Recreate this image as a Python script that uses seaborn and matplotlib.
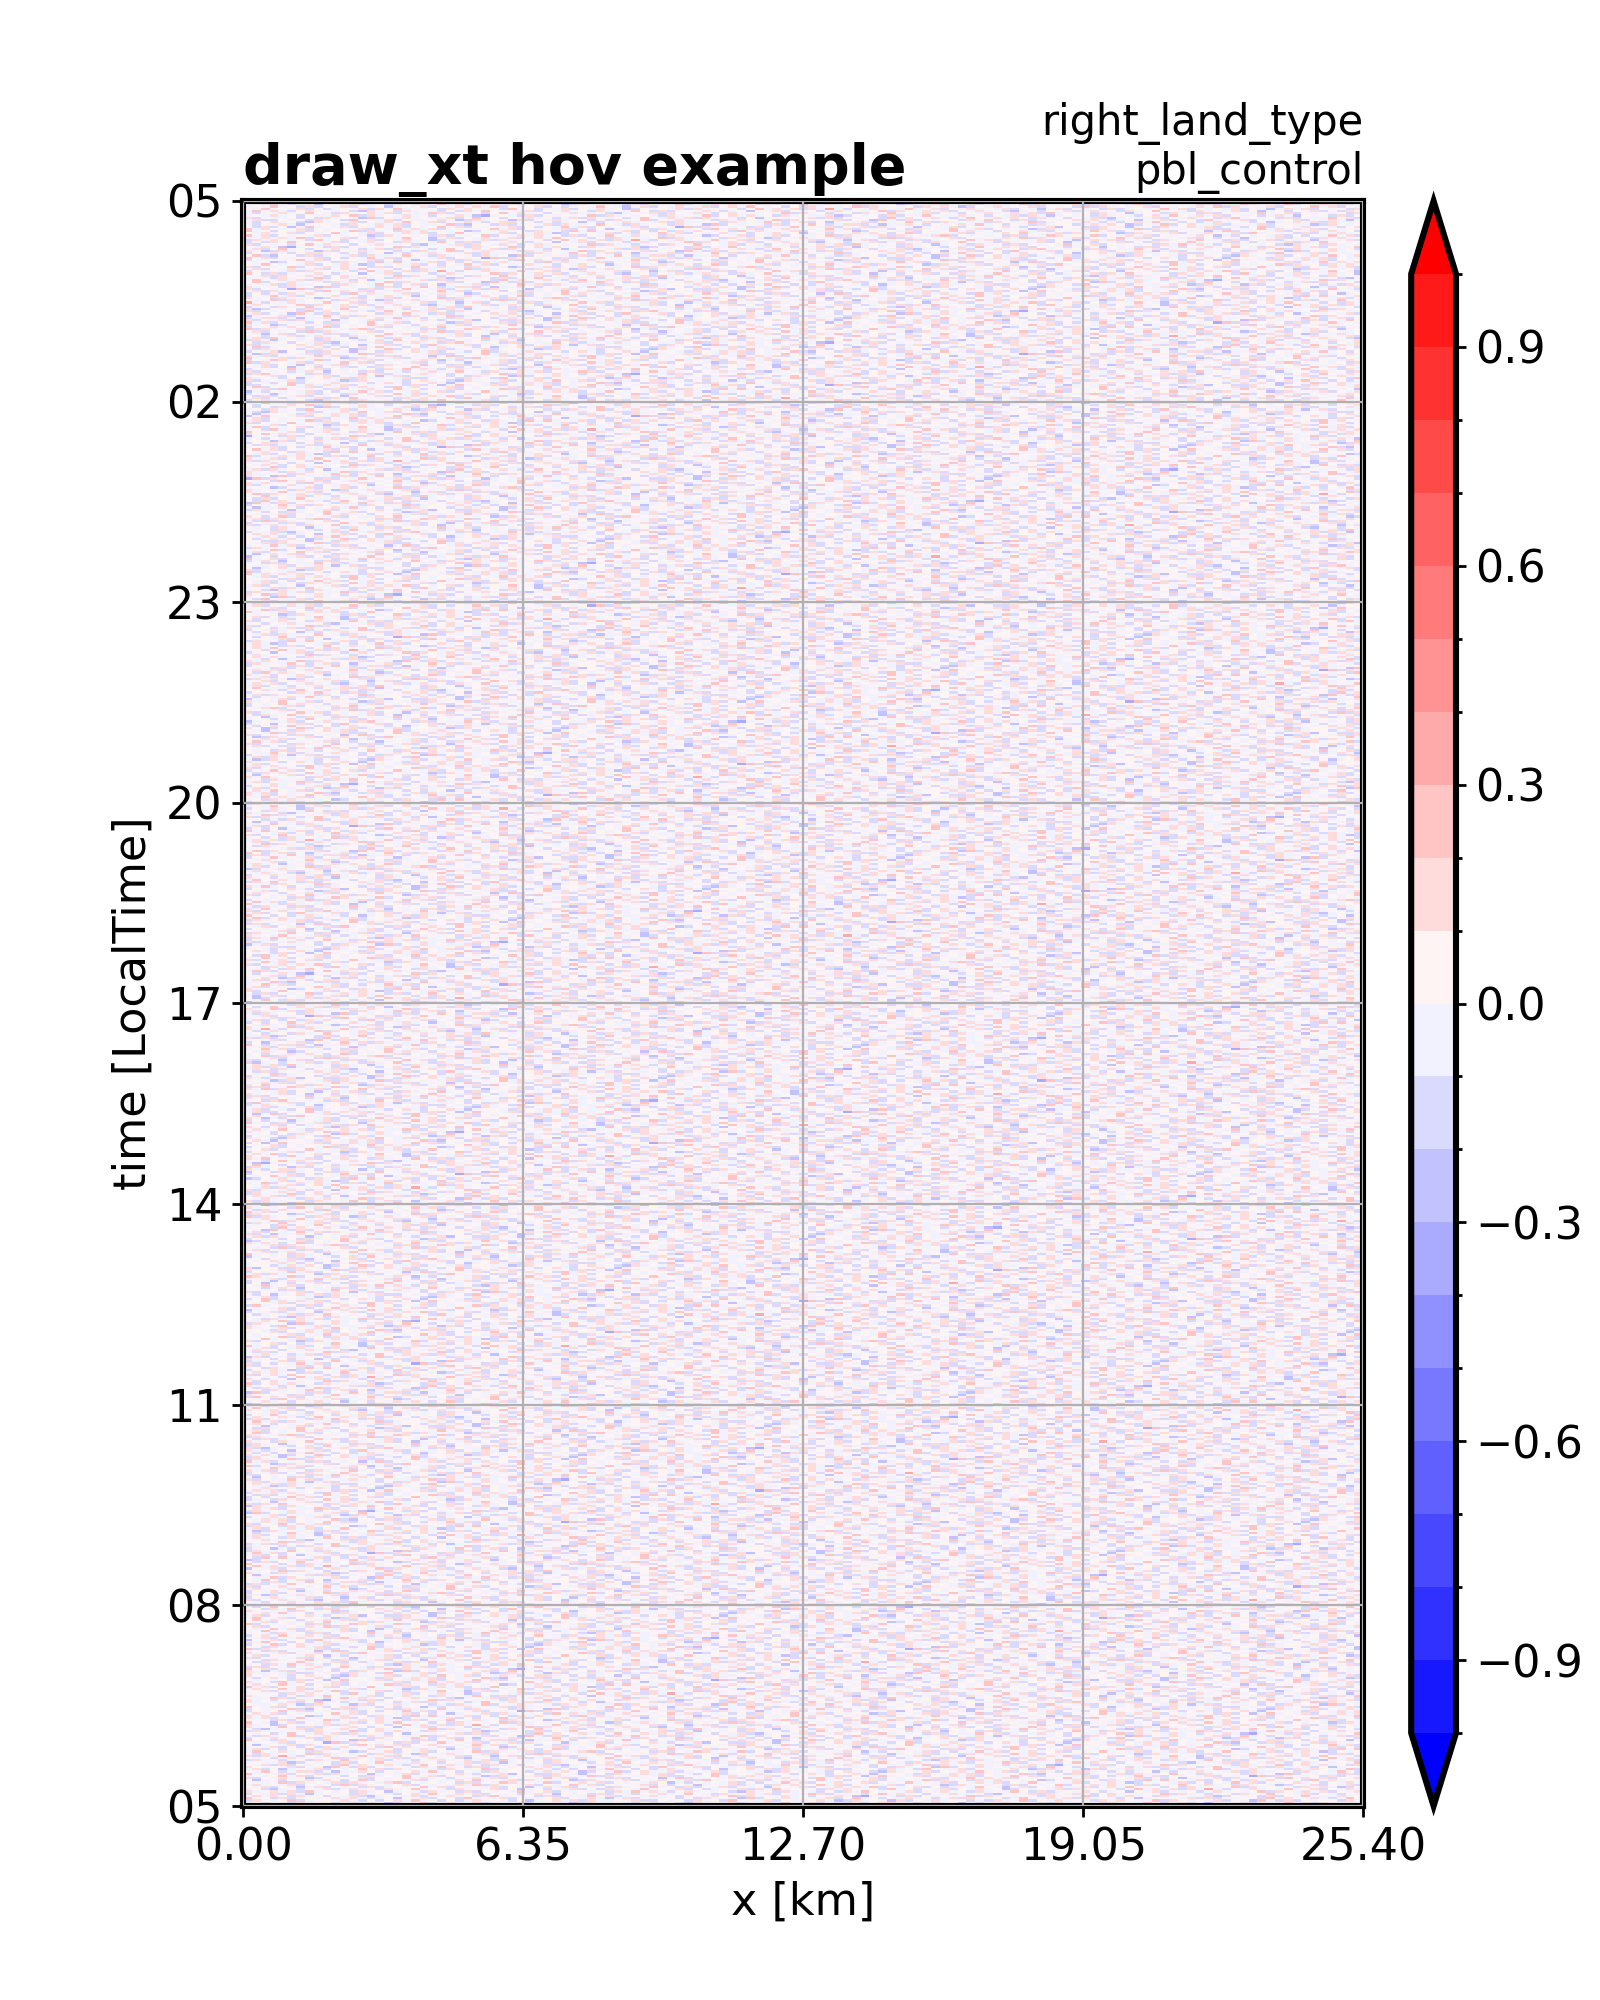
import numpy as np
import pandas as pd
import matplotlib
matplotlib.use("Agg")
import matplotlib.pyplot as plt
from matplotlib.colors import BoundaryNorm
from matplotlib.ticker import FixedLocator
import seaborn as sns

# texts
title_left = "draw_xt hov example"
title_right = "right_land_type\npbl_control"
x_label = "x [km]"
y_label = "time [LocalTime]"

# grid of the hovmoller field
dx_km = 0.2
n_x = 127
start_hour = 5
n_hours = 24
steps_per_hour = 30

# contour levels and ticks
levels = np.round(np.arange(-1.0, 1.01, 0.1), 1)
cbar_ticks = [-0.9, -0.6, -0.3, 0.0, 0.3, 0.6, 0.9]
x_tick_km = [0.00, 6.35, 12.70, 19.05, 25.40]
y_tick_hours = [0, 3, 6, 9, 12, 15, 18, 21, 24]

# the field is fine noise; its cells are estimated as level codes (0..7)
code_values = [-0.35, -0.25, -0.15, -0.05, 0.05, 0.15, 0.25, 0.35]
field_codes = (
    "3453243514422543134253453524324623435343245324453134432543535243346214425234352533464325344253416243"
    "4325243642355231335424345363424325344235354124362453352343524433125434324534215343524353643524353245"
    "5342423413243534352533442534364235241343524346352534332543462344353242453634242353432413453525334352"
    "2434253426433524334531253431524353442325346243534325354336254343524316325243442536342523434535323414"
    "3524426343524334524353135243342425343162435343352463424353423525434236435352534324134343525243442635"
    "4353236435354253424352134335243534256343425243364523435342433546253435342435310343252434346253434325"
    "3436245353425343351243425243643353424352531343425343245364353524342353143425243243534643253453524336"
    "5243424635342435334213435254353245343436253423425346343524324353453526343425341343253425243436345243"
    "4342536353245343421534253432425364343524353425343642523435423414352434235343462543535243534213424352"
    "3534253463432534352413424352425343634352423435253634342535434263424352435341243435253434246353525373"
    "2435343634524353435243135243425234346352434352431353524342534363425243524341343524353536243452423436"
    "4313524353352453643424253434625343425353124353435243426253434524343536253435243463524343524243134352"
    "3425353463524343524343125343425243462435353425243643534253431243524352433462534352534356243434252436"
    "5343624353524343541324343524243635243534524346343524353524364343524353124343524243635243453424353413"
    "4243535424624343524335463435253434125343524354352634342524353463424352434362534253534341243534253426"
    "3634352424253543426353435243534124343524346353424353524343635243425243413624343524353534263543452434"
    "4352436353524343463524343524241343525343426353524353434635243424253436435243431253435253436253434352"
    "2434635353524343425241363435243535243463524343524243635243435243406253434252436343524352534313435243"
)

n_t = n_hours * steps_per_hour
codes = np.array([int(c) for c in field_codes])
field = np.resize(np.array(code_values)[codes], (n_t, n_x))
df = pd.DataFrame(field)

sns.set_style("ticks")
plt.rcParams["font.family"] = ["DejaVu Sans"]
plt.rcParams.update({
    "text.color": "black",
    "axes.labelcolor": "black",
    "xtick.color": "black",
    "ytick.color": "black",
    "axes.edgecolor": "black",
})

fig = plt.figure(figsize=(8, 10), dpi=200)
ax = fig.add_axes([0.152, 0.097, 0.700, 0.8025])
cax = fig.add_axes([0.882, 0.097, 0.028, 0.8025])

norm = BoundaryNorm(levels, ncolors=256, extend="both")
sns.heatmap(df, ax=ax, cbar_ax=cax, cmap="bwr", norm=norm,
            xticklabels=False, yticklabels=False,
            cbar_kws={"extend": "both", "ticks": cbar_ticks})

# time goes upward
ax.set_ylim(0, n_t)
ax.set_xlim(0, n_x)

ax.set_xticks([v / dx_km for v in x_tick_km])
ax.set_xticklabels([f"{v:.2f}" for v in x_tick_km])
ax.set_yticks([h * steps_per_hour for h in y_tick_hours])
ax.set_yticklabels([f"{(start_hour + h) % 24:02d}" for h in y_tick_hours], rotation=0)
ax.tick_params(labelsize=16, width=1.0, length=4, direction="out", colors="black")

for s in ax.spines.values():
    s.set_visible(True)
    s.set_linewidth(2.2)
    s.set_color("black")

ax.set_axisbelow(False)
ax.grid(True, color="#b0b0b0", linewidth=0.8)

ax.set_xlabel(x_label, fontsize=16, color="black")
ax.set_ylabel(y_label, fontsize=16, color="black")
ax.set_title(title_left, loc="left", fontsize=20, fontweight="bold", color="black")
ax.set_title(title_right, loc="right", fontsize=15, color="black")

# colorbar look
cb = ax.collections[0].colorbar
cb.outline.set_linewidth(2.2)
cb.outline.set_edgecolor("black")
cb.ax.yaxis.set_minor_locator(FixedLocator(levels))
cb.ax.tick_params(which="major", labelsize=16, width=1.0, length=3.5, colors="black")
cb.ax.tick_params(which="minor", width=1.0, length=2, colors="black")

fig.savefig("out.png", dpi=200)
